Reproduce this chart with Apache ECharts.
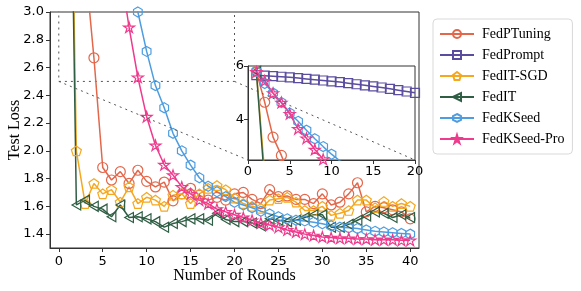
<!DOCTYPE html>
<html>
<head>
<meta charset="utf-8">
<script src="https://cdn.jsdelivr.net/npm/echarts@6/dist/echarts.min.js"></script>
<style>
html,body{margin:0;padding:0;background:#fff;}
#c{width:581px;height:291px;}
</style>
</head>
<body>
<div id="c"></div>
<script>
const rounds = [1,2,3,4,5,6,7,8,9,10,11,12,13,14,15,16,17,18,19,20,21,22,23,24,25,26,27,28,29,30,31,32,33,34,35,36,37,38,39,40];
const seriesNames = ["FedPTuning","FedPrompt","FedIT-SGD","FedIT","FedKSeed","FedKSeed-Pro"];
const fedPTuning = [5.8,4.65,3.35,2.67,1.88,1.79,1.85,1.765,1.86,1.78,1.74,1.775,1.64,1.69,1.73,1.68,1.645,1.665,1.645,1.69,1.70,1.65,1.62,1.72,1.67,1.675,1.65,1.65,1.62,1.69,1.61,1.63,1.69,1.77,1.56,1.60,1.59,1.575,1.56,1.51];
const fedPrompt = [5.66,5.64,5.62,5.60,5.58,5.55,5.52,5.49,5.46,5.43,5.40,5.36,5.32,5.28,5.24,5.20,5.15,5.10,5.05,5.00];
const fedITSGD = [5.8,2.0,1.62,1.765,1.69,1.72,1.63,1.74,1.62,1.665,1.645,1.60,1.68,1.69,1.62,1.69,1.73,1.75,1.72,1.66,1.62,1.60,1.585,1.645,1.655,1.665,1.63,1.57,1.57,1.60,1.535,1.55,1.57,1.645,1.645,1.59,1.635,1.60,1.62,1.60];
const fedIT = [5.8,1.61,1.645,1.60,1.58,1.525,1.61,1.52,1.525,1.51,1.49,1.45,1.476,1.49,1.51,1.51,1.50,1.55,1.505,1.49,1.49,1.48,1.46,1.51,1.50,1.49,1.50,1.52,1.54,1.54,1.45,1.45,1.47,1.50,1.53,1.56,1.55,1.52,1.54,1.52];
const fedKSeed = [5.8,5.35,4.99,4.64,4.25,3.94,3.61,3.29,3.0,2.716,2.47,2.31,2.126,2.0,1.897,1.806,1.745,1.705,1.67,1.63,1.61,1.59,1.565,1.545,1.525,1.51,1.50,1.495,1.485,1.475,1.46,1.45,1.445,1.44,1.43,1.42,1.415,1.41,1.405,1.40];
const fedKSeedPro = [5.78,5.45,4.99,4.64,4.22,3.66,3.31,2.89,2.53,2.246,2.04,1.90,1.825,1.74,1.69,1.645,1.62,1.58,1.56,1.54,1.52,1.50,1.48,1.465,1.45,1.43,1.415,1.40,1.39,1.38,1.375,1.37,1.37,1.365,1.365,1.36,1.36,1.36,1.355,1.355];
const mainXTicks = [0,5,10,15,20,25,30,35,40];
const mainYTicks = [1.4,1.6,1.8,2.0,2.2,2.4,2.6,2.8,3.0];
const insetYTicks = [4,6];
const zoomBox = {x0:0, x1:20, y0:2.5, y1:6};

const colors = ["#E3674B","#5B4C9F","#F5A81E","#2F5E44","#4D9DE0","#EF3A8D"];
const valuesList = [fedPTuning, fedPrompt, fedITSGD, fedIT, fedKSeed, fedKSeedPro];
const pentagon = 'path://M0,-10 L9.51,-3.09 L5.88,8.09 L-5.88,8.09 L-9.51,-3.09 Z';
const hexagon = 'path://M0,-10 L8.66,-5 L8.66,5 L0,10 L-8.66,5 L-8.66,-5 Z';
const star = 'path://M0,-10 L2.24,-3.09 L9.51,-3.09 L3.63,1.18 L5.88,8.09 L0,3.82 L-5.88,8.09 L-3.63,1.18 L-9.51,-3.09 L-2.24,-3.09 Z';
const triLeft = 'path://M0,5 L8.66,0 L8.66,10 Z';
const symbols = ['circle','rect',pentagon,triLeft,hexagon,star];
const sizes = [10,9,10,10,10,11];

const pairs = v => v.map((y,i)=>[rounds[i], y]);
const serif = 'Liberation Serif';
const sans = 'DejaVu Sans';

const series = [];
seriesNames.forEach((name,k)=>{
  [0,1].forEach(g=>{
    series.push({
      name: name, type:'line', xAxisIndex:g, yAxisIndex:g,
      data: pairs(valuesList[k]),
      symbol: symbols[k], symbolSize: sizes[k], symbolKeepAspect:true,
      showAllSymbol:true, clip:true, z: g? 6:2,
      lineStyle:{color:colors[k], width:1.5},
      itemStyle:{color:'rgba(255,255,255,0)', borderColor:colors[k], borderWidth:1.2},
      emphasis:{disabled:true}, animation:false
    });
  });
});
// zoom indicator rectangle on main axes
series.push({
  name:'zoomRect', type:'line', xAxisIndex:0, yAxisIndex:0, clip:true, silent:true,
  data:[[zoomBox.x0,zoomBox.y1],[zoomBox.x0,zoomBox.y0],[zoomBox.x1,zoomBox.y0],[zoomBox.x1,zoomBox.y1]],
  symbol:'none', lineStyle:{color:'#555', width:1, type:[2,4]}, z:1, animation:false
});

const axisLineStyle = {show:true, onZero:false, lineStyle:{color:'#333', width:1}};
const chart = echarts.init(document.getElementById('c'), null, {renderer:'canvas'});
chart.setOption({
  animation:false,
  backgroundColor:'#fff',
  grid:[
    {left:50, right:162, top:12, bottom:43, show:true, borderColor:'#333', borderWidth:1, backgroundColor:'#fff', containLabel:false, outerBoundsMode:'none'},
    {left:248, right:166, top:66, bottom:131, show:true, borderColor:'#333', borderWidth:1, backgroundColor:'#fff', z:5, containLabel:false, outerBoundsMode:'none'}
  ],
  xAxis:[
    {type:'value', gridIndex:0, min:-1, max:41, name:'Number of Rounds', nameLocation:'middle', nameGap:20, nameMoveOverlap:false,
     nameTextStyle:{fontFamily:serif, fontSize:16, color:'#000'},
     axisLine:axisLineStyle, splitLine:{show:false},
     axisTick:{show:true, length:4, inside:false, customValues:mainXTicks, lineStyle:{color:'#333'}},
     axisLabel:{customValues:mainXTicks, fontFamily:sans, fontSize:13, color:'#000', margin:7}},
    {type:'value', gridIndex:1, min:0, max:20, interval:5, z:6,
     axisLine:axisLineStyle, splitLine:{show:false},
     axisTick:{show:true, length:4, inside:false, lineStyle:{color:'#333'}},
     axisLabel:{fontFamily:sans, fontSize:13, color:'#000', margin:5}}
  ],
  yAxis:[
    {type:'value', gridIndex:0, min:1.3, max:3.0, name:'Test Loss', nameLocation:'middle', nameGap:27, nameMoveOverlap:false,
     nameTextStyle:{fontFamily:serif, fontSize:16, color:'#000'},
     axisLine:axisLineStyle, splitLine:{show:false},
     axisTick:{show:true, length:4, inside:false, customValues:mainYTicks, lineStyle:{color:'#333'}},
     axisLabel:{customValues:mainYTicks, fontFamily:sans, fontSize:13, color:'#000', margin:6, formatter:v=>v.toFixed(1)}},
    {type:'value', gridIndex:1, min:zoomBox.y0, max:zoomBox.y1, z:6,
     axisLine:axisLineStyle, splitLine:{show:false},
     axisTick:{show:true, length:4, inside:false, customValues:insetYTicks, lineStyle:{color:'#333'}},
     axisLabel:{customValues:insetYTicks, fontFamily:sans, fontSize:13, color:'#000', margin:4}}
  ],
  legend:{
    data:seriesNames, orient:'vertical', left:433, top:19,
    itemWidth:34, itemHeight:10, itemGap:7,
    padding:[8,8,8,6],
    borderColor:'#d9d9d9', borderWidth:1, borderRadius:4, backgroundColor:'#fff',
    textStyle:{fontFamily:serif, fontSize:14, color:'#000', padding:[0,0,0,3]}
  },
  series:series
});

// connector lines from zoom rectangle corners to inset corners
function addConnectors(){
  const a = chart.convertToPixel({gridIndex:0}, [zoomBox.x0, zoomBox.y0]);
  const b = chart.convertToPixel({gridIndex:0}, [zoomBox.x1, zoomBox.y0]);
  const c = chart.convertToPixel({gridIndex:1}, [zoomBox.x0, zoomBox.y0]);
  const d = chart.convertToPixel({gridIndex:1}, [zoomBox.x1, zoomBox.y0]);
  const st = {stroke:'#555', lineWidth:1, lineDash:[2,4]};
  chart.setOption({graphic:[
    {type:'line', shape:{x1:a[0],y1:a[1],x2:c[0],y2:c[1]}, style:st, z:20, silent:true},
    {type:'line', shape:{x1:b[0],y1:b[1],x2:d[0],y2:d[1]}, style:st, z:20, silent:true}
  ]});
}
addConnectors();
</script>
</body>
</html>
